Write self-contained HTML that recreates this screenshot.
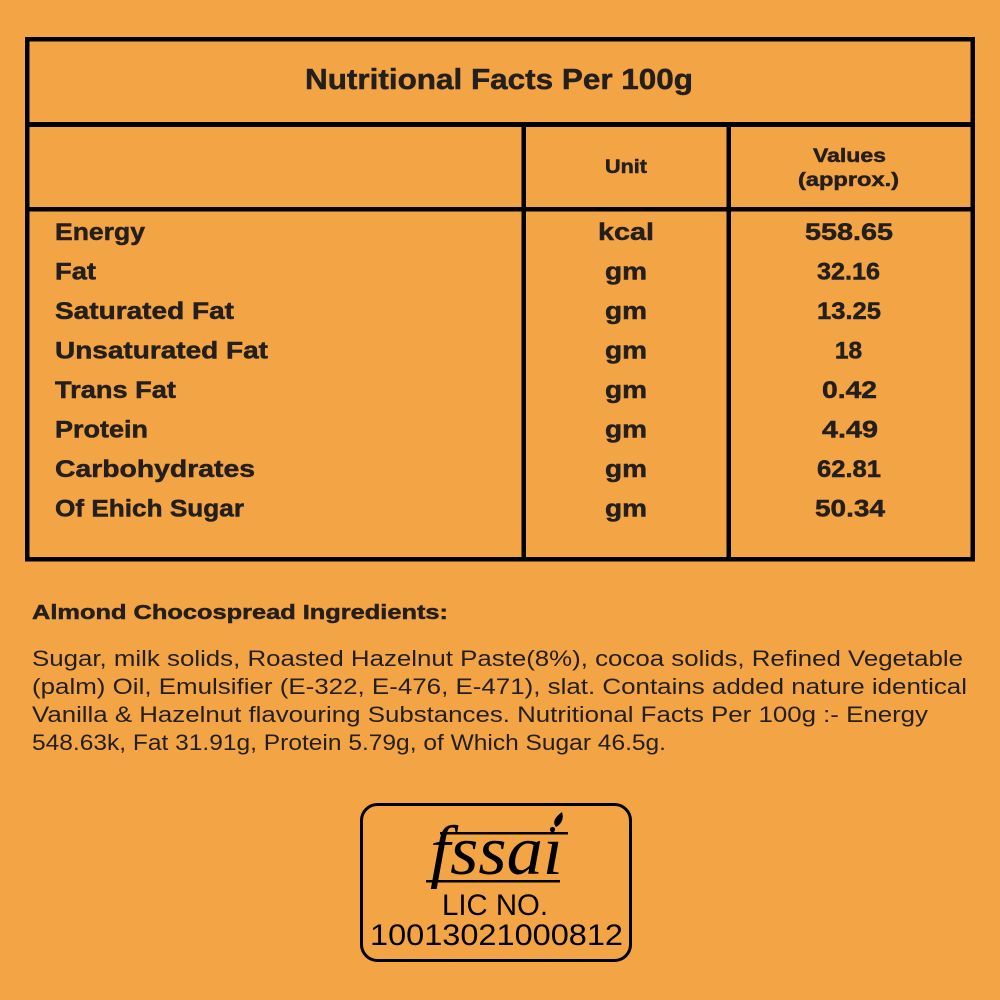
<!DOCTYPE html>
<html>
<head>
<meta charset="utf-8">
<style>
  html, body { margin: 0; padding: 0; background: #f3a444; }
  svg { display: block; }
  .b { font-family: "Liberation Sans", Arial, sans-serif; font-weight: bold; fill: #241f1c; stroke: #241f1c; stroke-width: 0.5; }
  .r { font-family: "Liberation Sans", Arial, sans-serif; font-weight: normal; fill: #241f1c; }
</style>
</head>
<body>
<svg width="1000" height="1000" viewBox="0 0 1000 1000" xmlns="http://www.w3.org/2000/svg">
  <rect x="0" y="0" width="1000" height="1000" fill="#f3a444"/>

  <!-- Table -->
  <g fill="#000">
    <rect x="25" y="37" width="950" height="4.5"/>
    <rect x="25" y="557" width="950" height="4.5"/>
    <rect x="25" y="37" width="4.5" height="524.5"/>
    <rect x="970.5" y="37" width="4.5" height="524.5"/>
    <rect x="25" y="122" width="950" height="5"/>
    <rect x="25" y="207" width="950" height="4.5"/>
    <rect x="521.5" y="122" width="4.5" height="439"/>
    <rect x="726.5" y="122" width="4.5" height="439"/>
  </g>

  <text class="b" x="499" y="89" font-size="29" text-anchor="middle" textLength="388" lengthAdjust="spacingAndGlyphs">Nutritional Facts Per 100g</text>

  <text class="b" x="626" y="173" font-size="19.5" text-anchor="middle" textLength="42" lengthAdjust="spacingAndGlyphs">Unit</text>
  <text class="b" x="849.5" y="162" font-size="19.5" text-anchor="middle" textLength="73" lengthAdjust="spacingAndGlyphs">Values</text>
  <text class="b" x="848.5" y="186" font-size="19.5" text-anchor="middle" textLength="101" lengthAdjust="spacingAndGlyphs">(approx.)</text>

  <!-- Rows -->
  <g font-size="24.5">
    <text class="b" x="55" y="240" textLength="90" lengthAdjust="spacingAndGlyphs">Energy</text>
    <text class="b" x="55" y="279.5" textLength="41" lengthAdjust="spacingAndGlyphs">Fat</text>
    <text class="b" x="55" y="319" textLength="179" lengthAdjust="spacingAndGlyphs">Saturated Fat</text>
    <text class="b" x="55" y="358.5" textLength="213" lengthAdjust="spacingAndGlyphs">Unsaturated Fat</text>
    <text class="b" x="55" y="398" textLength="121" lengthAdjust="spacingAndGlyphs">Trans Fat</text>
    <text class="b" x="55" y="437.5" textLength="93" lengthAdjust="spacingAndGlyphs">Protein</text>
    <text class="b" x="55" y="477" textLength="200" lengthAdjust="spacingAndGlyphs">Carbohydrates</text>
    <text class="b" x="55" y="516.5" textLength="189" lengthAdjust="spacingAndGlyphs">Of Ehich Sugar</text>

    <text class="b" x="626" y="240" text-anchor="middle" textLength="56" lengthAdjust="spacingAndGlyphs">kcal</text>
    <text class="b" x="626" y="279.5" text-anchor="middle" textLength="42" lengthAdjust="spacingAndGlyphs">gm</text>
    <text class="b" x="626" y="319" text-anchor="middle" textLength="42" lengthAdjust="spacingAndGlyphs">gm</text>
    <text class="b" x="626" y="358.5" text-anchor="middle" textLength="42" lengthAdjust="spacingAndGlyphs">gm</text>
    <text class="b" x="626" y="398" text-anchor="middle" textLength="42" lengthAdjust="spacingAndGlyphs">gm</text>
    <text class="b" x="626" y="437.5" text-anchor="middle" textLength="42" lengthAdjust="spacingAndGlyphs">gm</text>
    <text class="b" x="626" y="477" text-anchor="middle" textLength="42" lengthAdjust="spacingAndGlyphs">gm</text>
    <text class="b" x="626" y="516.5" text-anchor="middle" textLength="42" lengthAdjust="spacingAndGlyphs">gm</text>

    <text class="b" x="849" y="240" text-anchor="middle" textLength="88" lengthAdjust="spacingAndGlyphs">558.65</text>
    <text class="b" x="848.5" y="279.5" text-anchor="middle" textLength="63" lengthAdjust="spacingAndGlyphs">32.16</text>
    <text class="b" x="849" y="319" text-anchor="middle" textLength="64" lengthAdjust="spacingAndGlyphs">13.25</text>
    <text class="b" x="848.5" y="358.5" text-anchor="middle">18</text>
    <text class="b" x="849.5" y="398" text-anchor="middle" textLength="55" lengthAdjust="spacingAndGlyphs">0.42</text>
    <text class="b" x="850" y="437.5" text-anchor="middle" textLength="56" lengthAdjust="spacingAndGlyphs">4.49</text>
    <text class="b" x="849" y="477" text-anchor="middle" textLength="64" lengthAdjust="spacingAndGlyphs">62.81</text>
    <text class="b" x="850" y="516.5" text-anchor="middle" textLength="70" lengthAdjust="spacingAndGlyphs">50.34</text>
  </g>

  <!-- Ingredients -->
  <text class="b" x="32" y="619" font-size="20.5" textLength="416" lengthAdjust="spacingAndGlyphs">Almond Chocospread Ingredients:</text>

  <g font-size="22.5">
    <text class="r" x="32" y="666" textLength="931" lengthAdjust="spacingAndGlyphs">Sugar, milk solids, Roasted Hazelnut Paste(8%), cocoa solids, Refined Vegetable</text>
    <text class="r" x="32" y="694" textLength="935" lengthAdjust="spacingAndGlyphs">(palm) Oil, Emulsifier (E-322, E-476, E-471), slat. Contains added nature identical</text>
    <text class="r" x="32" y="722" textLength="896" lengthAdjust="spacingAndGlyphs">Vanilla &amp; Hazelnut flavouring Substances. Nutritional Facts Per 100g :- Energy</text>
    <text class="r" x="32" y="750" textLength="634" lengthAdjust="spacingAndGlyphs">548.63k, Fat 31.91g, Protein 5.79g, of Which Sugar 46.5g.</text>
  </g>

  <!-- FSSAI box -->
  <rect x="361.5" y="804.5" width="269" height="156" rx="16" ry="16" fill="none" stroke="#000" stroke-width="3"/>
  <rect x="440" y="832" width="128" height="2.5" fill="#000"/>
  <rect x="426" y="880" width="134" height="2.5" fill="#000"/>
  <text x="430" y="874" font-family="'Liberation Serif', 'DejaVu Serif', serif" font-style="italic" font-size="70" fill="#000" textLength="133" lengthAdjust="spacingAndGlyphs">fssaı</text>
  <path d="M556 827 C552 822 555 817 562 812 C564 818 562 824 556 827 Z" fill="#000"/>
  <circle cx="552.5" cy="829.5" r="2.6" fill="#000"/>

  <text class="r" x="495" y="915" font-size="30" text-anchor="middle" textLength="106" lengthAdjust="spacingAndGlyphs" style="fill:#000">LIC NO.</text>
  <text class="r" x="496.5" y="945" font-size="30" text-anchor="middle" textLength="253" lengthAdjust="spacingAndGlyphs" style="fill:#000">10013021000812</text>
</svg>
</body>
</html>
